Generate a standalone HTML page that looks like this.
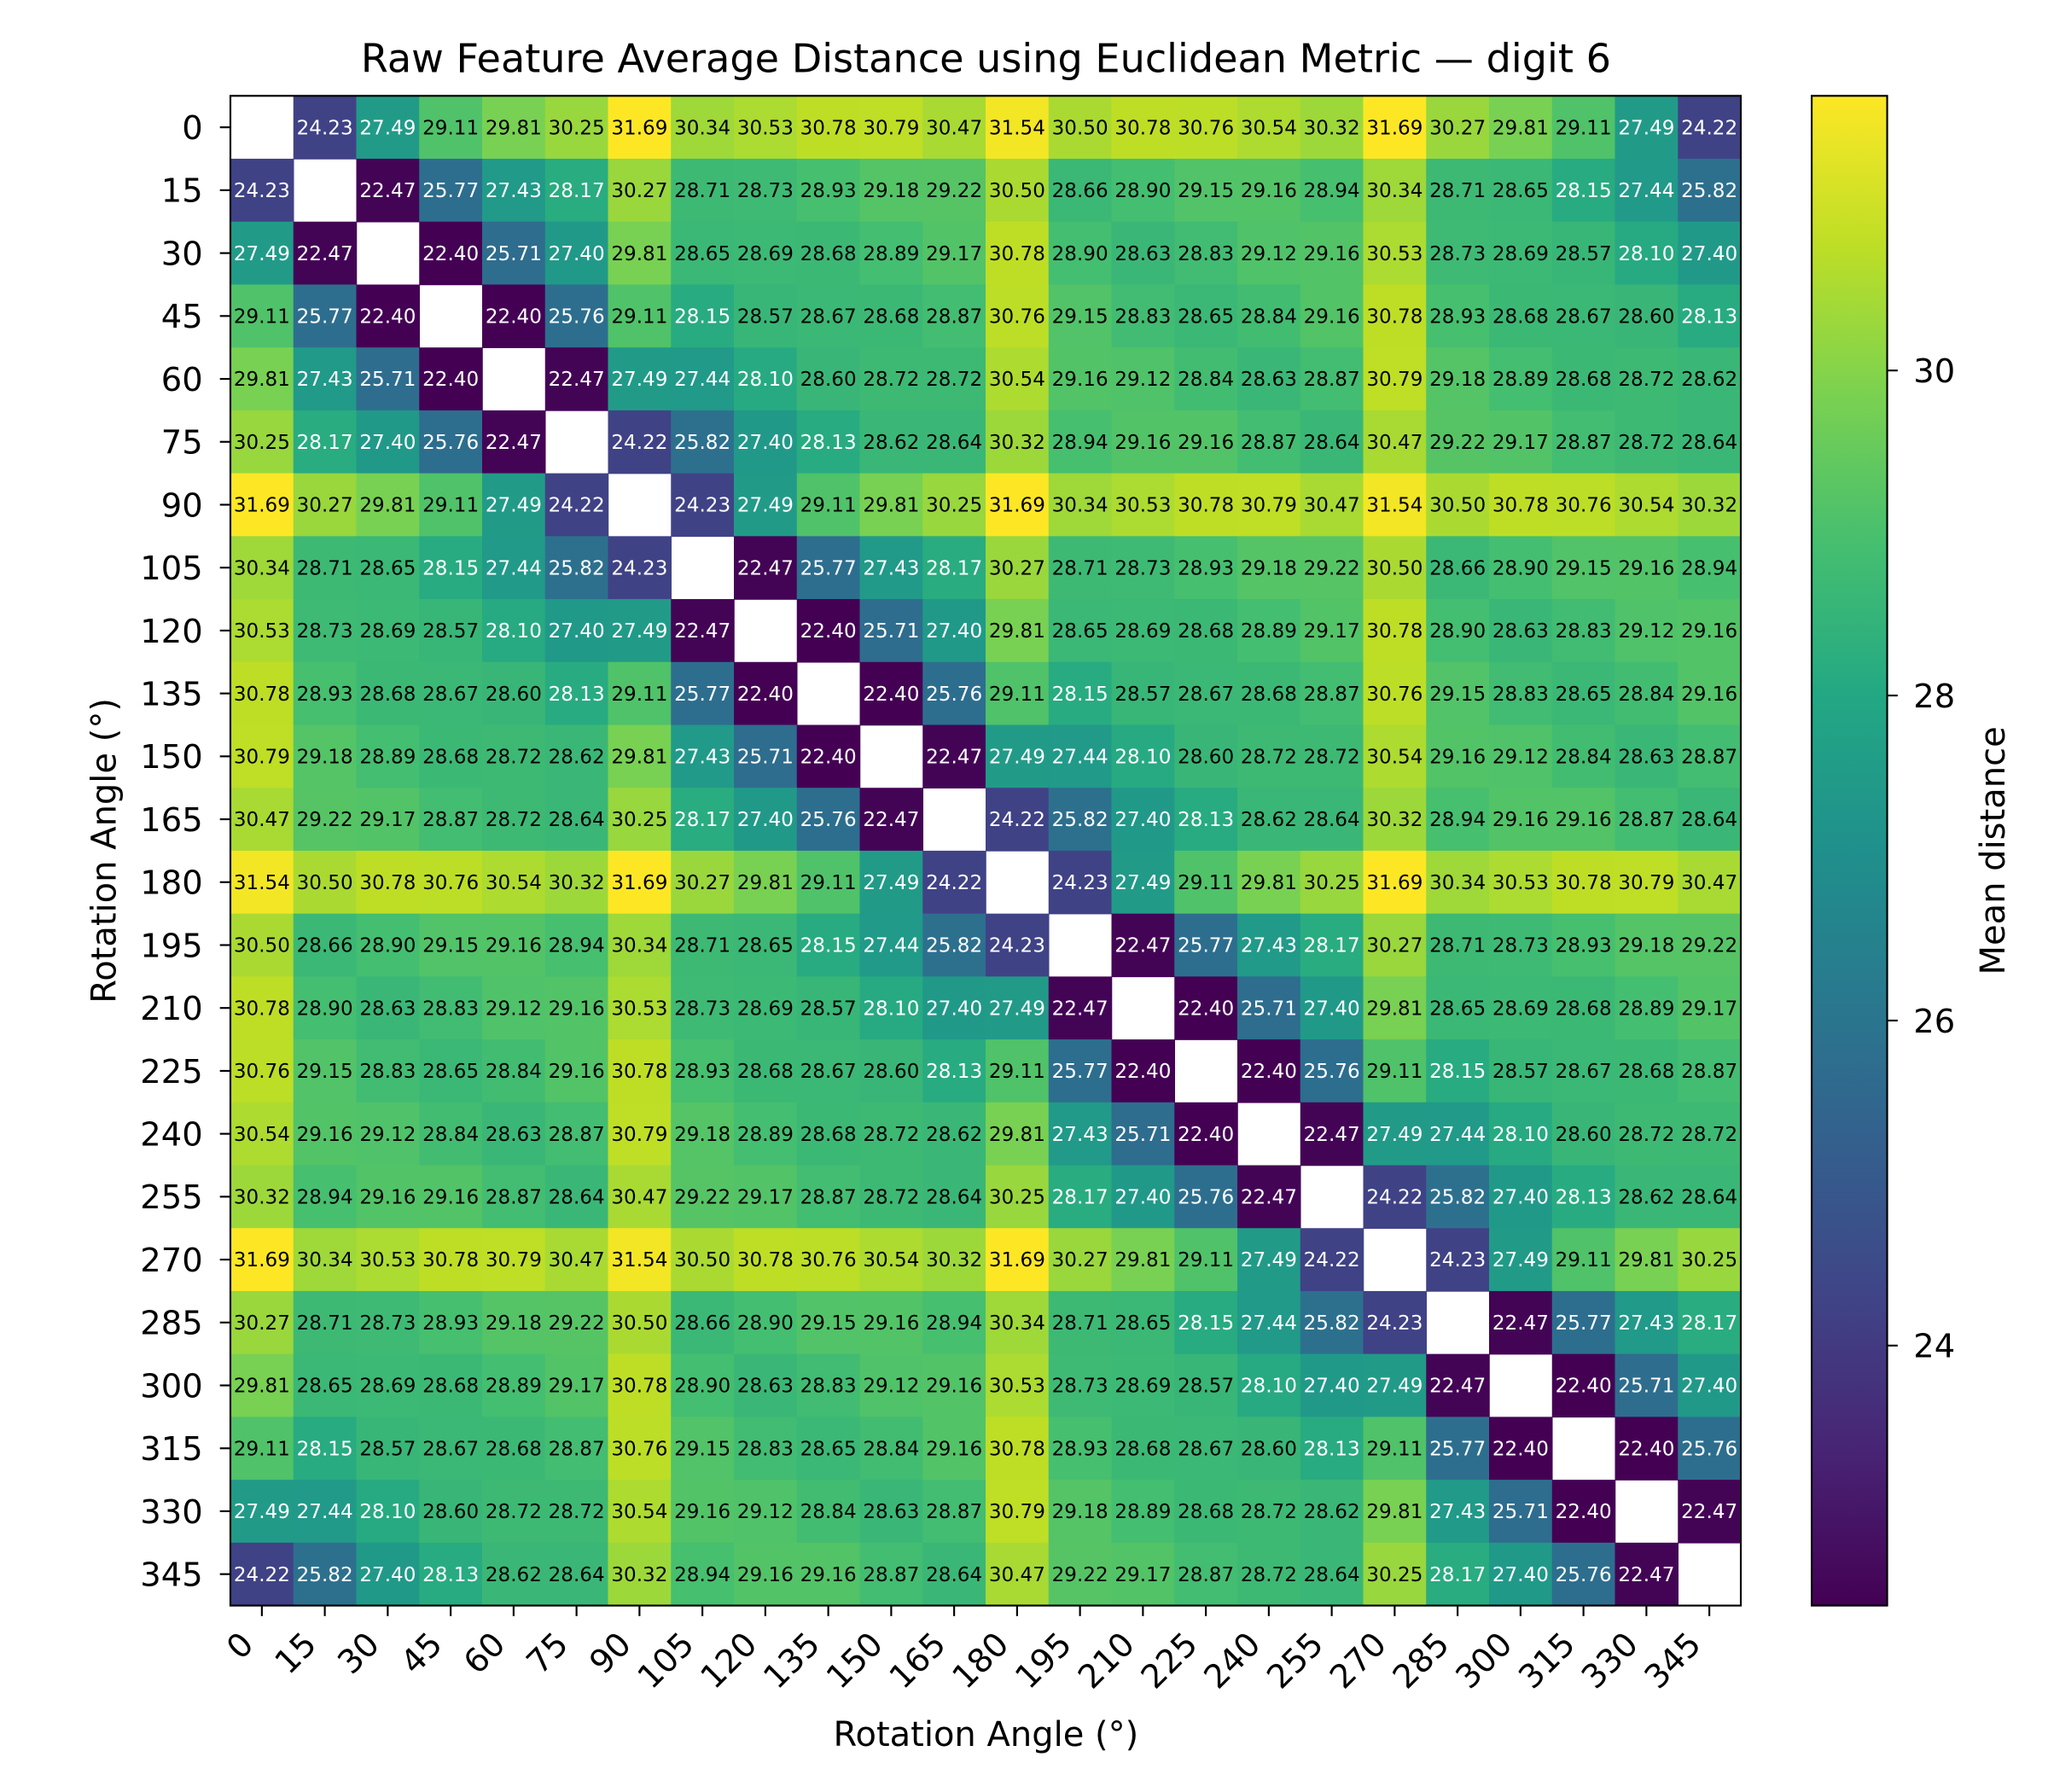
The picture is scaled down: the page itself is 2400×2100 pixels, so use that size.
<!DOCTYPE html>
<html><head><meta charset="utf-8"><style>
html,body{margin:0;padding:0;background:#fff}
svg{display:block;font-family:"DejaVu Sans","Liberation Sans",sans-serif}
</style></head><body>
<svg id="chart" width="2400" height="2100" viewBox="0 0 1560 1365" xmlns="http://www.w3.org/2000/svg">
<defs><linearGradient id="cbg" x1="0" y1="1" x2="0" y2="0"></linearGradient></defs>
<text x="751" y="55" font-size="30" text-anchor="middle">Raw Feature Average Distance using Euclidean Metric — digit 6</text>
<text x="751" y="1330" font-size="26" text-anchor="middle">Rotation Angle (°)</text>
<text transform="translate(88,648) rotate(-90)" font-size="26" text-anchor="middle">Rotation Angle (°)</text>
<text transform="translate(1527,648) rotate(-90)" font-size="26" text-anchor="middle">Mean distance</text>
<g id="cells"></g><g id="axes"></g><g id="cbar"></g>
</svg>
<script>
const angles=[0,15,30,45,60,75,90,105,120,135,150,165,180,195,210,225,240,255,270,285,300,315,330,345];
const row0=[null,24.23,27.49,29.11,29.81,30.25,31.69,30.34,30.53,30.78,30.79,30.47,31.54,30.50,30.78,30.76,30.54,30.32,31.69,30.27,29.81,29.11,27.49,24.22];
const row1=[24.23,null,22.47,25.77,27.43,28.17,30.27,28.71,28.73,28.93,29.18,29.22,30.50,28.66,28.90,29.15,29.16,28.94,30.34,28.71,28.65,28.15,27.44,25.82];
const row2=[27.49,22.47,null,22.40,25.71,27.40,29.81,28.65,28.69,28.68,28.89,29.17,30.78,28.90,28.63,28.83,29.12,29.16,30.53,28.73,28.69,28.57,28.10,27.40];
const row3=[29.11,25.77,22.40,null,22.40,25.76,29.11,28.15,28.57,28.67,28.68,28.87,30.76,29.15,28.83,28.65,28.84,29.16,30.78,28.93,28.68,28.67,28.60,28.13];
const row4=[29.81,27.43,25.71,22.40,null,22.47,27.49,27.44,28.10,28.60,28.72,28.72,30.54,29.16,29.12,28.84,28.63,28.87,30.79,29.18,28.89,28.68,28.72,28.62];
const row5=[30.25,28.17,27.40,25.76,22.47,null,24.22,25.82,27.40,28.13,28.62,28.64,30.32,28.94,29.16,29.16,28.87,28.64,30.47,29.22,29.17,28.87,28.72,28.64];
const row6=[31.69,30.27,29.81,29.11,27.49,24.22,null,24.23,27.49,29.11,29.81,30.25,31.69,30.34,30.53,30.78,30.79,30.47,31.54,30.50,30.78,30.76,30.54,30.32];
const row7=[30.34,28.71,28.65,28.15,27.44,25.82,24.23,null,22.47,25.77,27.43,28.17,30.27,28.71,28.73,28.93,29.18,29.22,30.50,28.66,28.90,29.15,29.16,28.94];
const row8=[30.53,28.73,28.69,28.57,28.10,27.40,27.49,22.47,null,22.40,25.71,27.40,29.81,28.65,28.69,28.68,28.89,29.17,30.78,28.90,28.63,28.83,29.12,29.16];
const row9=[30.78,28.93,28.68,28.67,28.60,28.13,29.11,25.77,22.40,null,22.40,25.76,29.11,28.15,28.57,28.67,28.68,28.87,30.76,29.15,28.83,28.65,28.84,29.16];
const row10=[30.79,29.18,28.89,28.68,28.72,28.62,29.81,27.43,25.71,22.40,null,22.47,27.49,27.44,28.10,28.60,28.72,28.72,30.54,29.16,29.12,28.84,28.63,28.87];
const row11=[30.47,29.22,29.17,28.87,28.72,28.64,30.25,28.17,27.40,25.76,22.47,null,24.22,25.82,27.40,28.13,28.62,28.64,30.32,28.94,29.16,29.16,28.87,28.64];
const row12=[31.54,30.50,30.78,30.76,30.54,30.32,31.69,30.27,29.81,29.11,27.49,24.22,null,24.23,27.49,29.11,29.81,30.25,31.69,30.34,30.53,30.78,30.79,30.47];
const row13=[30.50,28.66,28.90,29.15,29.16,28.94,30.34,28.71,28.65,28.15,27.44,25.82,24.23,null,22.47,25.77,27.43,28.17,30.27,28.71,28.73,28.93,29.18,29.22];
const row14=[30.78,28.90,28.63,28.83,29.12,29.16,30.53,28.73,28.69,28.57,28.10,27.40,27.49,22.47,null,22.40,25.71,27.40,29.81,28.65,28.69,28.68,28.89,29.17];
const row15=[30.76,29.15,28.83,28.65,28.84,29.16,30.78,28.93,28.68,28.67,28.60,28.13,29.11,25.77,22.40,null,22.40,25.76,29.11,28.15,28.57,28.67,28.68,28.87];
const row16=[30.54,29.16,29.12,28.84,28.63,28.87,30.79,29.18,28.89,28.68,28.72,28.62,29.81,27.43,25.71,22.40,null,22.47,27.49,27.44,28.10,28.60,28.72,28.72];
const row17=[30.32,28.94,29.16,29.16,28.87,28.64,30.47,29.22,29.17,28.87,28.72,28.64,30.25,28.17,27.40,25.76,22.47,null,24.22,25.82,27.40,28.13,28.62,28.64];
const row18=[31.69,30.34,30.53,30.78,30.79,30.47,31.54,30.50,30.78,30.76,30.54,30.32,31.69,30.27,29.81,29.11,27.49,24.22,null,24.23,27.49,29.11,29.81,30.25];
const row19=[30.27,28.71,28.73,28.93,29.18,29.22,30.50,28.66,28.90,29.15,29.16,28.94,30.34,28.71,28.65,28.15,27.44,25.82,24.23,null,22.47,25.77,27.43,28.17];
const row20=[29.81,28.65,28.69,28.68,28.89,29.17,30.78,28.90,28.63,28.83,29.12,29.16,30.53,28.73,28.69,28.57,28.10,27.40,27.49,22.47,null,22.40,25.71,27.40];
const row21=[29.11,28.15,28.57,28.67,28.68,28.87,30.76,29.15,28.83,28.65,28.84,29.16,30.78,28.93,28.68,28.67,28.60,28.13,29.11,25.77,22.40,null,22.40,25.76];
const row22=[27.49,27.44,28.10,28.60,28.72,28.72,30.54,29.16,29.12,28.84,28.63,28.87,30.79,29.18,28.89,28.68,28.72,28.62,29.81,27.43,25.71,22.40,null,22.47];
const row23=[24.22,25.82,27.40,28.13,28.62,28.64,30.32,28.94,29.16,29.16,28.87,28.64,30.47,29.22,29.17,28.87,28.72,28.64,30.25,28.17,27.40,25.76,22.47,null];
const matrix=[row0,row1,row2,row3,row4,row5,row6,row7,row8,row9,row10,row11,row12,row13,row14,row15,row16,row17,row18,row19,row20,row21,row22,row23];
const cbTicks=[24,26,28,30];

const NS="http://www.w3.org/2000/svg";
function mk(t,a,p){const e=document.createElementNS(NS,t);for(const k in a)e.setAttribute(k,a[k]);p.appendChild(e);return e;}
const L=175.5,R=1326,T=73,B=1223,n=angles.length;
const cw=(R-L)/n,ch=(B-T)/n;
const xs=i=>L+i*cw, ys=i=>T+i*ch;
const all=matrix.flat().filter(v=>v!=null);
const vmin=Math.min(...all),vmax=Math.max(...all);
const vir=[[68,1,84],[72,35,116],[64,67,135],[52,94,141],[41,120,142],[32,144,140],[34,167,132],[68,190,112],[121,209,81],[189,222,38],[253,231,37]];
function cmap(v){let t=(v-vmin)/(vmax-vmin);t=Math.max(0,Math.min(1,t))*(vir.length-1);const i=Math.min(Math.floor(t),vir.length-2),f=t-i;const c=vir[i].map((a,k)=>Math.round(a+(vir[i+1][k]-a)*f));return `rgb(${c})`;}
const cells=document.getElementById('cells');
matrix.forEach((row,r)=>row.forEach((v,c)=>{
  if(v==null)return;
  const rc=mk('rect',{x:xs(c),y:ys(r),width:cw+0.5,height:ch+0.5,fill:cmap(v)},cells);
  
  
  const tx=mk('text',{x:xs(c)+cw/2,y:ys(r)+ch/2+5.3,'font-size':15,'text-anchor':'middle',fill:v<28.3?'#fff':'#000'},cells);
  
  
  tx.textContent=v.toFixed(2);
}));
const ax=document.getElementById('axes');
const fr=mk('rect',{x:L,y:T,width:R-L,height:B-T,fill:'none',stroke:'#000','stroke-width':1.4},ax);


angles.forEach((a,i)=>{
  const x=xs(i)+cw/2,y=ys(i)+ch/2;
  mk('line',{x1:x,x2:x,y1:B,y2:B+8,stroke:'#000','stroke-width':1.4},ax);
  mk('line',{x1:L-8,x2:L,y1:y,y2:y,stroke:'#000','stroke-width':1.4},ax);
  const yl=mk('text',{x:L-21,y:y+9,'font-size':25,'text-anchor':'end'},ax);
  
  
  yl.textContent=a;
  const xl=mk('text',{transform:`translate(${x-5},${B+31}) rotate(-45)`,'font-size':25,'text-anchor':'end'},ax);
  
  
  xl.textContent=a;
});
const CL=1380,CR=1437.5;
const cy=v=>B-(v-vmin)/(vmax-vmin)*(B-T);
const g=document.getElementById('cbg');
for(let k=0;k<=20;k++){const v=vmin+(vmax-vmin)*k/20;mk('stop',{offset:(k/20),'stop-color':cmap(v)},g);}
const cb=document.getElementById('cbar');
const cbr=mk('rect',{x:CL,y:T,width:CR-CL,height:B-T,fill:'url(#cbg)',stroke:'#000','stroke-width':1.4},cb);


cbTicks.forEach(t=>{
  const y=cy(t);
  mk('line',{x1:CR,x2:CR+8,y1:y,y2:y,stroke:'#000','stroke-width':1.4},cb);
  const tl=mk('text',{x:CR+20,y:y+9,'font-size':25},cb);
  
  
  tl.textContent=t;
});
</script>
</body></html>
